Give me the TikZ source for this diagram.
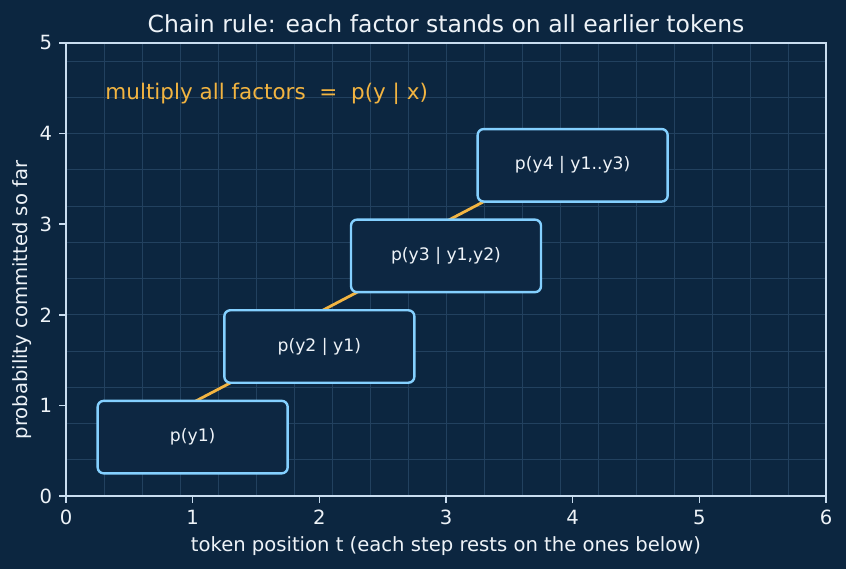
\documentclass[tikz,border=0pt]{standalone}
\usepackage{fontspec}
\setmainfont{DejaVu Sans}
\definecolor{bgc}{HTML}{0C2640}
\definecolor{boxfill}{HTML}{0D2742}
\definecolor{gridc}{HTML}{22415F}
\definecolor{spinec}{HTML}{C9DDF0}
\definecolor{txtc}{HTML}{EEF3F8}
\definecolor{edgec}{HTML}{84D0FF}
\definecolor{orangec}{HTML}{F2B441}
\pgfdeclarelayer{back}
\pgfsetlayers{back,main}
\tikzset{
  factorbox/.style={draw=edgec, fill=boxfill, line width=2.4pt, rounded corners=6pt,
    minimum width=190pt, minimum height=72.5pt, inner sep=0pt, text=txtc,
    font=\fontsize{17.2}{20}\selectfont},
  linkline/.style={draw=orangec, line width=2.8pt},
  gridline/.style={draw=gridc, line width=0.9pt},
  spine/.style={draw=spinec, line width=1.6pt},
  tickmark/.style={draw=spinec, line width=1.6pt},
  ticklabel/.style={text=txtc, font=\fontsize{19.6}{22}\selectfont, inner sep=0pt},
  axislabel/.style={text=txtc, font=\fontsize{19.6}{22}\selectfont, inner sep=0pt},
  titlelabel/.style={text=txtc, font=\fontsize{23.5}{26}\selectfont, inner sep=0pt},
  notelabel/.style={text=orangec, font=\fontsize{21.5}{24}\selectfont, inner sep=0pt, anchor=west}
}
\begin{document}
\begin{tikzpicture}[x=1pt,y=1pt]
\begin{pgfonlayer}{back}
\fill[bgc] (0,0) rectangle (846,569);
\end{pgfonlayer}
\useasboundingbox (0,0) rectangle (846,569);
\begin{scope}[shift={(66,73)}, x=126.667pt, y=90.6pt]
  \begin{pgfonlayer}{back}
    \foreach \i in {1,...,19} \draw[gridline] (0.3*\i,0) -- (0.3*\i,5);
    \foreach \j in {1,...,12} \draw[gridline] (0,0.4*\j) -- (6,0.4*\j);
  \end{pgfonlayer}
  % boxes
  \node[factorbox] (b1) at (1,0.65) {p(y1)};
  \node[factorbox] (b2) at (2,1.65) {p(y2 | y1)};
  \node[factorbox] (b3) at (3,2.65) {p(y3 | y1,y2)};
  \node[factorbox] (b4) at (4,3.65) {p(y4 | y1..y3)};
  \begin{pgfonlayer}{back}
    \draw[linkline] ([yshift=-3pt]b1.north) -- ([xshift=9pt,yshift=2pt]b2.south west);
    \draw[linkline] ([yshift=-3pt]b2.north) -- ([xshift=9pt,yshift=2pt]b3.south west);
    \draw[linkline] ([yshift=-3pt]b3.north) -- ([xshift=9pt,yshift=2pt]b4.south west);
  \end{pgfonlayer}
  % spines
  \draw[spine] (0,0) rectangle (6,5);
  % ticks
  \foreach \i in {0,...,6} {
    \draw[tickmark] (\i,0) -- ++(0,-6.9pt);
    \node[ticklabel, anchor=north] (xt\i) at ([yshift=-13.8pt]\i,0) {\i};
  }
  \foreach \j in {0,...,5} {
    \draw[tickmark] (0,\j) -- ++(-6.9pt,0);
    \node[ticklabel, anchor=east] (yt\j) at ([xshift=-13.8pt]0,\j) {\j};
  }
  \node[notelabel] (note) at (0.31,4.44) {multiply all factors\ \ =\ \ p(y | x)};
\end{scope}
\node[axislabel] (xlab) at (446,23) {token position t (each step rests on the ones below)};
\node[axislabel, rotate=90] (ylab) at (22,269) {probability committed so far};
\node[titlelabel] (title) at (446,545) {Chain rule: each factor stands on all earlier tokens};
\end{tikzpicture}
\end{document}
